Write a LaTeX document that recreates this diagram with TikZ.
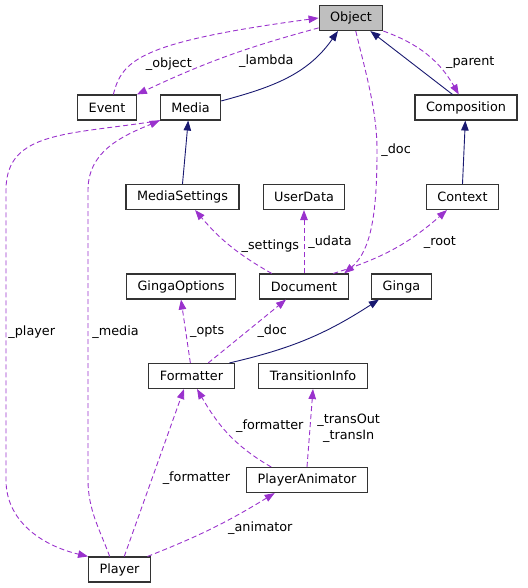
\documentclass[tikz,border=0pt]{standalone}
\usepackage{fontspec}
\setmainfont{DejaVu Sans}
\usetikzlibrary{arrows.meta, positioning}
\definecolor{dxpurple}{HTML}{9A32CD}
\definecolor{dxnavy}{HTML}{191970}
\definecolor{dxgrey}{HTML}{BFBFBF}

\begin{document}
\begin{tikzpicture}[x=1pt, y=1pt, font=\fontsize{12.8}{16}\selectfont,
      cls/.style={draw=black!80, fill=white, line width=1.1pt, inner xsep=11pt, inner ysep=0pt, minimum height=25pt},
      root/.style={cls, fill=dxgrey},
      mbr/.style={-{Triangle[length=10pt, width=7.5pt]}, dxpurple, line width=.9pt, dash pattern=on 5pt off 3pt},
      inh/.style={-{Triangle[length=10pt, width=7.5pt]}, dxnavy, line width=.9pt},
      lbl/.style={text=black, inner sep=1pt}]

      \useasboundingbox (0,0) rectangle (527,-588);

      \node[root] (obj) at (351,-18) {Object};
      \node[cls] (evt) at (107,-107.5) {Event};
      \node[cls] (med) at (190.5,-107.5) {Media};
      \node[cls] (comp) at (466,-107.5) {Composition};
      \node[cls] (mset) at (182.5,-197) {MediaSettings};
      \node[cls] (udat) at (304,-197) {UserData};
      \node[cls] (ctx) at (462.5,-197) {Context};
      \node[cls] (gopt) at (181,-286.5) {GingaOptions};
      \node[cls] (doc) at (304,-286.5) {Document};
      \node[cls] (ginga) at (401.5,-286.5) {Ginga};
      \node[cls] (fmt) at (191.5,-376) {Formatter};
      \node[cls] (tinfo) at (313,-376) {TransitionInfo};
      \node[cls] (panim) at (307,-480) {PlayerAnimator};
      \node[cls] (plr) at (119.5,-569.5) {Player};

      % inheritance
      \draw[inh] (med.12) to[out=15, in=-125] (obj.-135);
      \draw[inh] (comp.136) -- (obj.-34);
      \draw[inh] (mset.north) -- (med.-100);
      \draw[inh] (ctx.north) -- (comp.-93);
      \draw[inh] (fmt.19) to[bend right=10] (ginga.-150);

      % members
      \draw[mbr] (evt.64) .. controls (122,-60) and (140,-42) .. node[lbl, pos=.45, below right] {\_object} (obj.west);
      \draw[mbr] (obj.197) to[bend right=5] node[lbl, pos=.43, below right=1pt and 0pt] {\_lambda} (evt.north east);
      \draw[mbr] (obj.south east) to[out=-20, in=120] node[lbl, pos=.62, right=9pt] {\_parent} (comp.119);
      \draw[mbr] (obj.-70) .. controls (365,-70) and (377,-110) .. (377,-150) node[lbl, right=3pt] {\_doc}
                 .. controls (377,-210) and (372,-250) .. (doc.18);
      \draw[mbr] (doc.158) to[bend left=10] node[lbl, right=10pt] {\_settings} (mset.-46);
      \draw[mbr] (doc.north) -- node[lbl, right=3pt] {\_udata} (udat.south);
      \draw[mbr] (doc.24) to[bend right=12] node[lbl, pos=.6, right=18pt] {\_root} (ctx.-140);
      \draw[mbr] (fmt.95) -- node[lbl, right=3pt] {\_opts} (gopt.south);
      \draw[mbr] (fmt.38) -- node[lbl, right=9pt] {\_doc} (doc.-144);
      \draw[mbr] (panim.160) to[out=150, in=-60] node[lbl, pos=.6, right=13pt] {\_formatter} (fmt.-67);
      \draw[mbr] (panim.north) -- node[lbl, right=6pt, align=center] {\_transOut\\\_transIn} (tinfo.south);
      \draw[mbr] (plr.70) -- node[lbl, pos=.47, right=9pt] {\_formatter} (fmt.-120);
      \draw[mbr] (plr.25) to[bend right=5] node[lbl, pos=.62, below right] {\_animator} (panim.-158);
      \draw[mbr] (med.south west) .. controls (70,-135) and (6,-130) .. (6,-190)
                 -- node[lbl, pos=.49, right=1pt] {\_player} (6,-480)
                 .. controls (6,-520) and (40,-545) .. (plr.north west);
      \draw[mbr] (plr.127) .. controls (100,-530) and (88,-510) .. (88,-480)
                 -- node[lbl, pos=.51, right=3pt] {\_media} (88,-190)
                 .. controls (88,-150) and (125,-135) .. (med.south west);
    \end{tikzpicture}
\end{document}
